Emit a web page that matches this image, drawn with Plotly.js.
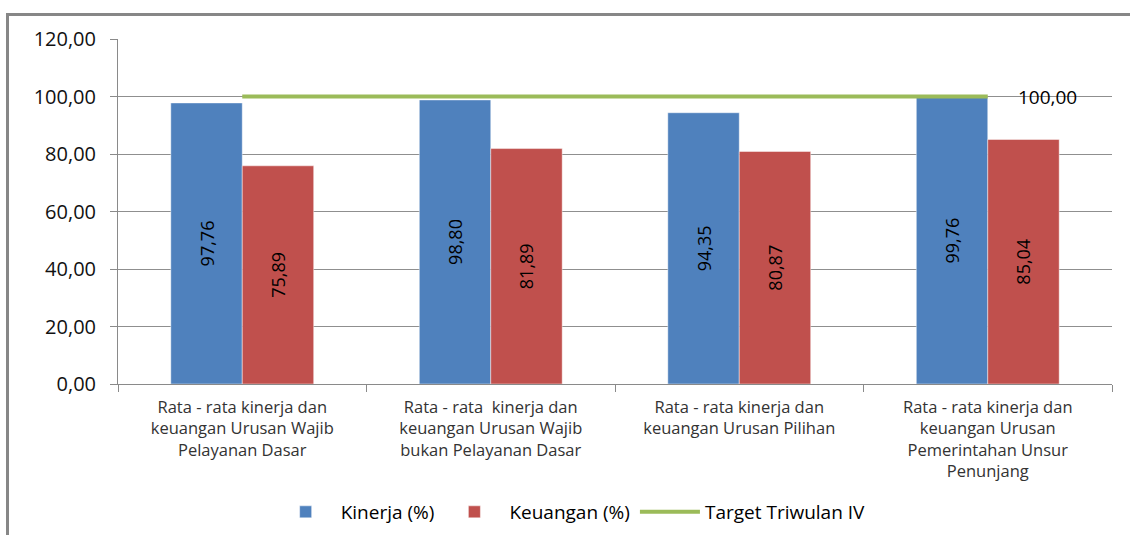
<!DOCTYPE html>
<html>
<head>
<meta charset="utf-8">
<script src="https://cdn.plot.ly/plotly-3.0.1.min.js"></script>
<style>
html,body{margin:0;padding:0;background:#fff;overflow:hidden;}
#wrap{position:relative;width:1130px;height:535px;}
#chart{width:1130px;height:535px;}
#frame{position:absolute;left:6px;top:13px;width:1200px;height:700px;border-top:3px solid #878787;border-left:3px solid #878787;pointer-events:none;}
</style>
</head>
<body>
<div id="wrap"><div id="chart"></div><div id="frame"></div></div>
<script>
const categories = [
  "Rata - rata kinerja dan<br>keuangan Urusan Wajib<br>Pelayanan Dasar",
  "Rata - rata  kinerja dan<br>keuangan Urusan Wajib<br>bukan Pelayanan Dasar",
  "Rata - rata kinerja dan<br>keuangan Urusan Pilihan",
  "Rata - rata kinerja dan<br>keuangan Urusan<br>Pemerintahan Unsur<br>Penunjang"
];
const kinerja = [97.76, 98.80, 94.35, 99.76];
const keuangan = [75.89, 81.89, 80.87, 85.04];
const target = [100, 100, 100, 100];

const font = "Open Sans, Lato, sans-serif";
const barLabelFont = {family: font, size: 18, color: "#000"};

const traces = [
  {type: "bar", name: "Kinerja (%)", x: categories, y: kinerja,
   marker: {color: "#4F81BD", line: {color: "rgba(255,255,255,0.45)", width: 1}},
   texttemplate: "%{y:.2f}", textposition: "inside", insidetextanchor: "middle",
   textangle: -90, textfont: barLabelFont, hoverinfo: "skip"},
  {type: "bar", name: "Keuangan (%)", x: categories, y: keuangan,
   marker: {color: "#C0504D", line: {color: "rgba(255,255,255,0.45)", width: 1}},
   texttemplate: "%{y:.2f}", textposition: "inside", insidetextanchor: "middle",
   textangle: -90, textfont: barLabelFont, hoverinfo: "skip"},
  {type: "scatter", mode: "lines", name: "Target Triwulan IV", x: categories, y: target,
   line: {color: "#9BBB59", width: 4}, hoverinfo: "skip"}
];

const layout = {
  width: 1130, height: 535,
  margin: {l: 118, r: 18, t: 39, b: 151},
  paper_bgcolor: "#fff", plot_bgcolor: "#fff",
  separators: ",.",
  barmode: "group", bargap: 0.425, bargroupgap: 0,
  font: {family: font, color: "#000"},
  showlegend: true,
  legend: {orientation: "h", xref: "container", yref: "container", x: 0.505, xanchor: "center",
           y: 0.043, yanchor: "middle",
           font: {family: font, size: 19, color: "#000"}, itemwidth: 60, traceorder: "normal"},
  xaxis: {type: "category", showline: true, linecolor: "#8a8a8a", linewidth: 1, automargin: false,
          ticks: "outside", tickson: "boundaries", ticklen: 7, tickcolor: "#8a8a8a",
          ticklabelstandoff: 8,
          tickfont: {family: font, size: 16.5, color: "#333"}, showgrid: false, fixedrange: true},
  yaxis: {range: [0, 120], dtick: 20, tickformat: ".2f", showline: true, linecolor: "#8a8a8a",
          linewidth: 1, ticks: "outside", ticklen: 7, tickcolor: "#8a8a8a", automargin: false,
          ticklabelstandoff: 10,
          gridcolor: "#8f8f8f", gridwidth: 1, zeroline: false,
          tickfont: {family: font, size: 20, color: "#111"}, fixedrange: true},
  annotations: [{
    x: categories[3], y: target[3], xref: "x", yref: "y",
    text: target[3].toFixed(2).replace(".", ","), showarrow: false,
    xanchor: "left", yanchor: "middle", xshift: 28,
    font: {family: font, size: 19, color: "#000"}
  }]
};

Plotly.newPlot("chart", traces, layout, {displayModeBar: false, staticPlot: true});
</script>
</body>
</html>
